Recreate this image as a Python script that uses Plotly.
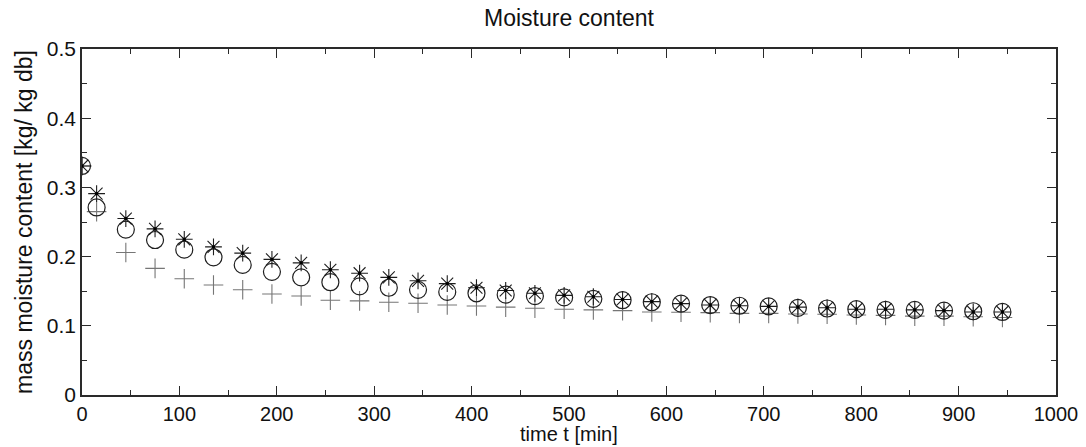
import plotly.graph_objects as go

time_min = [0, 15, 45, 75, 105, 135, 165, 195, 225, 255, 285, 315, 345, 375, 405, 435,
            465, 495, 525, 555, 585, 615, 645, 675, 705, 735, 765, 795, 825, 855, 885, 915, 945]

series_star = [0.331, 0.291, 0.255, 0.240, 0.225, 0.214, 0.205, 0.196, 0.191, 0.181, 0.176,
               0.170, 0.165, 0.161, 0.155, 0.151, 0.147, 0.144, 0.142, 0.138, 0.135, 0.132,
               0.130, 0.129, 0.128, 0.127, 0.126, 0.124, 0.124, 0.123, 0.122, 0.120, 0.120]

series_circle = [0.331, 0.271, 0.239, 0.224, 0.210, 0.199, 0.188, 0.178, 0.170, 0.163, 0.157,
                 0.155, 0.152, 0.149, 0.147, 0.145, 0.143, 0.141, 0.139, 0.137, 0.134, 0.132,
                 0.130, 0.129, 0.128, 0.126, 0.125, 0.124, 0.123, 0.123, 0.122, 0.121, 0.120]

series_plus = [0.331, 0.265, 0.206, 0.183, 0.168, 0.159, 0.152, 0.146, 0.143, 0.137, 0.136,
               0.134, 0.1325, 0.130, 0.1286, 0.127, 0.1253, 0.124, 0.123, 0.122, 0.120, 0.1195,
               0.119, 0.118, 0.118, 0.117, 0.1166, 0.1156, 0.115, 0.114, 0.114, 0.113, 0.112]

x_ticks = [0, 100, 200, 300, 400, 500, 600, 700, 800, 900, 1000]
y_ticks = [0, 0.1, 0.2, 0.3, 0.4, 0.5]
y_tick_labels = ["0", "0.1", "0.2", "0.3", "0.4", "0.5"]

FONT = "Liberation Sans, Arial, Helvetica, sans-serif"
AX = "#2a2a2a"
TXT = "#111111"

fig = go.Figure()
fig.add_trace(go.Scatter(
    x=time_min, y=series_plus, mode="markers", name="plus",
    marker=dict(symbol="cross-thin", size=14, color="#767676",
                line=dict(color="#767676", width=1.1))))
fig.add_trace(go.Scatter(
    x=time_min, y=series_circle, mode="markers", name="circle",
    marker=dict(symbol="circle-open", size=17, color="#1e1e1e",
                line=dict(color="#1e1e1e", width=1.2))))
fig.add_trace(go.Scatter(
    x=time_min, y=series_star, mode="markers", name="star",
    marker=dict(symbol="asterisk", size=14, color="#1e1e1e",
                line=dict(color="#1e1e1e", width=1.1))))
fig.add_trace(go.Scatter(
    x=time_min, y=series_star, mode="markers", name="star-dot",
    marker=dict(symbol="square", size=3, color="#000000", line=dict(width=0))))

fig.update_layout(
    width=1086, height=447,
    margin=dict(l=82, r=30, t=49, b=52, autoexpand=False),
    paper_bgcolor="white", plot_bgcolor="white",
    showlegend=False,
    font=dict(family=FONT, size=21, color=TXT),
    title=dict(text="Moisture content", x=0.5, xanchor="center", xref="paper",
               y=1 - 18 / 447, yanchor="middle", yref="container",
               font=dict(family=FONT, size=23, color=TXT)),
    annotations=[dict(text="time t [min]", xref="paper", yref="paper",
                      x=0.5, y=-39 / 346, xanchor="center", yanchor="middle",
                      showarrow=False, font=dict(family=FONT, size=20, color=TXT))],
)

fig.update_xaxes(
    range=[0, 1000], tickvals=x_ticks, showgrid=False, zeroline=False,
    showline=True, linecolor=AX, linewidth=1.5, mirror="allticks",
    ticks="inside", ticklen=9, tickwidth=1.2, tickcolor=AX,
    minor=dict(dtick=50, ticks="inside", ticklen=5, tickwidth=1.2, tickcolor=AX, showgrid=False),
    tickfont=dict(family=FONT, size=20, color=TXT),
)
fig.update_yaxes(
    range=[0, 0.5], tickvals=y_ticks, ticktext=y_tick_labels, showgrid=False, zeroline=False,
    showline=True, linecolor=AX, linewidth=1.5, mirror="allticks",
    ticks="inside", ticklen=9, tickwidth=1.2, tickcolor=AX,
    minor=dict(dtick=0.05, ticks="inside", ticklen=5, tickwidth=1.2, tickcolor=AX, showgrid=False),
    tickfont=dict(family=FONT, size=21, color=TXT),
    title=dict(text="mass moisture content [kg/ kg db]", standoff=8,
               font=dict(family=FONT, size=23, color=TXT)),
)

fig.write_html("out.html")
